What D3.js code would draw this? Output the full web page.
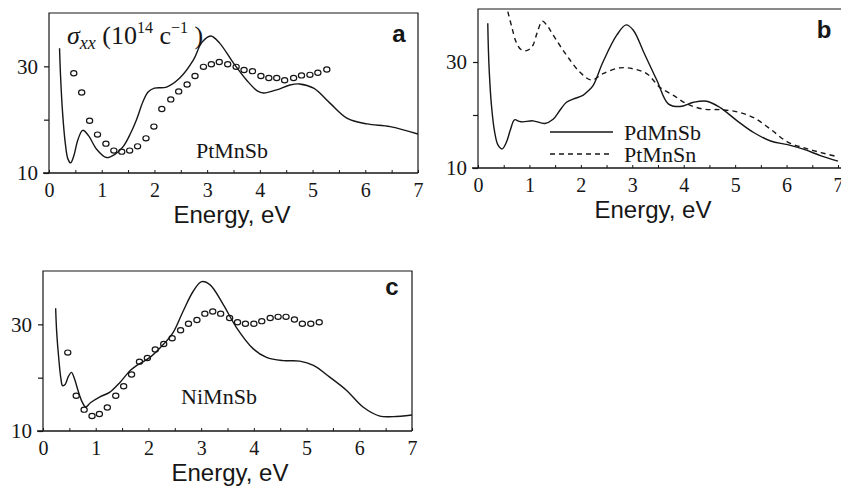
<!DOCTYPE html>
<html><head><meta charset="utf-8">
<script src="https://cdn.jsdelivr.net/npm/d3@7"></script>
<style>body{margin:0;background:#fff}svg{display:block}</style>
</head><body><svg id="chart" width="841" height="493"></svg>
<script>
// ---- data ----
const xTicks = [0, 1, 2, 3, 4, 5, 6, 7];
const xMinorTicks = [0.5, 1.5, 2.5, 3.5, 4.5, 5.5, 6.5];
const yTicks = [10, 20, 30];
const yTickLabels = ["10", "", "30"];

// panel a: PtMnSb theory (solid) and experiment (circles)
const aLineX = [0.2,0.22,0.26,0.31,0.36,0.41,0.47,0.55,0.64,0.75,0.9,1.09,1.25,1.41,1.55,1.66,1.78,1.88,2.0,2.23,2.48,2.74,2.9,3.07,3.24,3.5,3.75,3.95,4.07,4.32,4.57,4.75,5.02,5.33,5.65,6.03,6.47,7.0];
const aLineY = [33.4,28,21,15.5,12.6,11.9,13.2,16.3,18.0,17.0,14.5,12.9,13.5,15.0,17.5,20.0,23.3,25.2,25.9,26.1,27.8,31.2,34.5,35.7,34.3,30.6,27.4,25.4,25.0,25.6,26.5,26.7,25.9,23.1,20.3,19.2,18.7,17.3];
const aDotX = [0.47,0.62,0.77,0.92,1.08,1.23,1.38,1.53,1.68,1.84,1.99,2.14,2.31,2.46,2.62,2.77,2.93,3.08,3.23,3.39,3.55,3.70,3.86,4.02,4.17,4.32,4.47,4.64,4.79,4.95,5.10,5.27];
const aDotY = [28.7,25.1,19.8,17.2,15.5,14.2,14.0,14.2,15.0,16.5,18.7,22.0,23.8,25.3,26.6,28.2,29.9,30.4,30.8,30.4,29.9,29.3,29.1,28.2,27.8,27.8,27.4,27.8,28.3,28.4,28.8,29.4];

// panel b: PdMnSb (solid) and PtMnSn (dashed)
const bSolidX = [0.19,0.2,0.22,0.26,0.32,0.39,0.47,0.55,0.63,0.71,0.8,0.87,1.07,1.3,1.46,1.6,1.72,1.85,2.04,2.15,2.24,2.43,2.7,2.88,3.02,3.22,3.48,3.7,3.93,4.19,4.45,4.71,5.04,5.36,5.69,6.02,6.34,6.67,7.0];
const bSolidY = [37.3,33,28,22,17,14.3,13.6,14.8,17.2,19.1,18.8,18.7,18.9,18.4,19.2,21,22.4,23,23.7,24.6,25.6,30.0,35.1,37.0,36.0,31.9,26.5,22.1,21.6,22.4,22.6,21.4,18.9,16.7,15.1,14.4,13.5,12.3,11.3];
const bDashX = [0.58,0.66,0.74,0.83,0.92,1.0,1.07,1.15,1.25,1.35,1.46,1.72,1.98,2.21,2.43,2.76,3.02,3.28,3.54,3.8,4.06,4.39,4.71,5.04,5.36,5.69,6.02,6.34,6.67,7.0];
const bDashY = [39.5,36.5,33.8,32.4,32.1,32.4,33.2,35.5,37.7,36.8,35.1,31.3,28.1,26.6,27.8,28.9,28.7,27.8,25.2,23.7,22.1,21.1,21.0,20.6,19.5,17.3,14.9,13.8,12.9,12.1];
const bLegend = ["PdMnSb", "PtMnSn"];

// panel c: NiMnSb theory (solid) and experiment (circles)
const cLineX = [0.24,0.26,0.30,0.34,0.37,0.42,0.48,0.54,0.60,0.67,0.74,0.81,0.9,1.08,1.27,1.46,1.65,1.78,2.03,2.29,2.47,2.66,2.85,3.01,3.17,3.42,3.67,3.99,4.24,4.56,4.87,5.13,5.44,5.76,6.07,6.39,6.64,7.0];
const cLineY = [33.0,28.5,23.5,19.8,18.5,18.7,20.2,21.0,19.7,17.4,15.5,14.5,15.3,16.4,17.3,19.1,21.3,22.3,23.8,26.3,28.5,32.5,36.2,38.0,37.4,33.7,29.4,25.4,23.8,23.2,23.1,22.3,20.1,17.6,14.5,12.8,12.7,13.0];
const cDotX = [0.47,0.63,0.78,0.93,1.07,1.22,1.38,1.53,1.68,1.83,1.98,2.13,2.29,2.45,2.61,2.76,2.92,3.07,3.22,3.37,3.54,3.69,3.84,4.00,4.15,4.31,4.46,4.61,4.77,4.92,5.08,5.24];
const cDotY = [24.7,16.6,14.0,12.8,13.2,14.4,16.6,18.4,20.6,23.0,23.7,25.3,26.3,27.4,28.9,30.1,30.8,32.0,32.4,32.0,31.2,30.4,30.1,30.1,30.6,31.2,31.4,31.4,30.9,30.1,30.1,30.4];

// ---- drawing ----
const svg = d3.select("#chart");
const INK = "#161616";
const serif = "'Liberation Serif','Times New Roman',serif";
const sans = "'Liberation Sans',Arial,sans-serif";

function zip(xs, ys) { return xs.map((x, i) => [x, ys[i]]); }

function panel(p) {
  const x = d3.scaleLinear().domain([0, 7]).range([p.left, p.right]);
  const y = d3.scaleLinear().domain([10, 40]).range([p.bottom, p.top]);
  const g = svg.append("g");

  // frame
  const fr = p.frameRight !== undefined ? p.frameRight : p.right;
  g.append("path")
    .attr("d", `M${p.left},${p.bottom}V${p.top}H${fr}` + (p.closed ? `V${p.bottom}` : ""))
    .attr("fill", "none").attr("stroke", INK).attr("stroke-width", 1.2);

  // x axis
  const xAxis = d3.axisBottom(x).tickValues(xTicks).tickSize(-3).tickFormat(d3.format("d"));
  const xa = g.append("g").attr("transform", `translate(0,${p.bottom})`).call(xAxis);
  xa.select(".domain").attr("d", `M${p.left - 6},0H${fr}`).attr("stroke", INK).attr("stroke-width", 1.4);
  xa.selectAll(".tick line").attr("stroke", INK);
  xa.selectAll(".tick text").attr("font-family", serif).attr("font-size", 20).attr("fill", INK)
    .attr("y", 24).attr("dy", 0);
  const xm = d3.axisBottom(x).tickValues(xMinorTicks).tickSize(-3).tickFormat("");
  const xma = g.append("g").attr("transform", `translate(0,${p.bottom})`).call(xm);
  xma.select(".domain").remove();
  xma.selectAll(".tick line").attr("stroke", INK);

  // y axis
  const yAxis = d3.axisLeft(y).tickValues(yTicks).tickSize(5).tickPadding(6)
    .tickFormat((d, i) => yTickLabels[i]);
  const ya = g.append("g").attr("transform", `translate(${p.left},0)`).call(yAxis);
  ya.select(".domain").remove();
  ya.selectAll(".tick line").attr("stroke", INK).attr("stroke-width", 1.2);
  ya.selectAll(".tick text").attr("font-family", serif).attr("font-size", 21).attr("fill", INK);

  // axis title
  g.append("text").attr("x", p.titleX).attr("y", p.bottom + 50).attr("text-anchor", "middle")
    .attr("font-family", sans).attr("font-size", 24).attr("fill", INK).text("Energy, eV");

  // panel letter
  g.append("text").attr("x", p.letterX).attr("y", p.letterY).attr("text-anchor", "middle")
    .attr("font-family", sans).attr("font-weight", "bold")
    .attr("font-size", 24).attr("fill", INK).text(p.letter);

  const line = d3.line().x(d => x(d[0])).y(d => y(d[1])).curve(d3.curveCatmullRom.alpha(0.5));
  const clipId = "clip" + p.letter;
  g.append("clipPath").attr("id", clipId).append("rect")
    .attr("x", p.left).attr("y", p.top).attr("width", fr - p.left).attr("height", p.bottom - p.top);
  const plot = g.append("g").attr("clip-path", `url(#${clipId})`);
  (p.lines || []).forEach(L => {
    plot.append("path").datum(zip(L.xs, L.ys)).attr("d", line)
      .attr("fill", "none").attr("stroke", INK).attr("stroke-width", 1.4)
      .attr("stroke-dasharray", L.dash || null);
  });
  if (p.dots) {
    plot.selectAll("ellipse.dot").data(zip(p.dots.xs, p.dots.ys)).enter().append("ellipse")
      .attr("cx", d => x(d[0])).attr("cy", d => y(d[1])).attr("rx", 3.1).attr("ry", 2.6)
      .attr("fill", "none").attr("stroke", INK).attr("stroke-width", 1.2);
  }
  return { g, x, y };
}

// panel a
const A = panel({ left: 49, right: 418, top: 13, bottom: 173, closed: true, letter: "a", letterX: 399, letterY: 42,
  titleX: 232,
  lines: [{ xs: aLineX, ys: aLineY }], dots: { xs: aDotX, ys: aDotY } });
const sig = A.g.append("text").attr("x", 67).attr("y", 44).attr("font-family", serif).attr("font-size", 26).attr("fill", INK);
sig.append("tspan").attr("font-style", "italic").text("σ");
sig.append("tspan").attr("font-style", "italic").attr("font-size", 18).attr("dy", 5).text("xx");
sig.append("tspan").attr("dy", -5).text(" (10");
sig.append("tspan").attr("font-size", 16).attr("dy", -11).text("14");
sig.append("tspan").attr("dy", 11).text(" c");
sig.append("tspan").attr("font-size", 16).attr("dy", -11).text("−1");
sig.append("tspan").attr("dy", 11).text(" )");
A.g.append("text").attr("x", 232).attr("y", 158).attr("text-anchor", "middle").attr("font-family", serif)
  .attr("font-size", 22).attr("fill", INK).text("PtMnSb");

// panel b
const B = panel({ left: 478, right: 838, frameRight: 841, top: 9, bottom: 168, closed: false, letter: "b", letterX: 824, letterY: 38,
  titleX: 653,
  lines: [{ xs: bSolidX, ys: bSolidY }, { xs: bDashX, ys: bDashY, dash: "5,4" }] });
bLegend.forEach((name, i) => {
  const yy = 132 + i * 22;
  B.g.append("line").attr("x1", 550).attr("x2", 613).attr("y1", yy).attr("y2", yy)
    .attr("stroke", INK).attr("stroke-width", 1.4).attr("stroke-dasharray", i ? "5,4" : null);
  B.g.append("text").attr("x", 624).attr("y", yy + 8).attr("font-family", serif).attr("font-size", 22)
    .attr("fill", INK).text(name);
});

// panel c
const C = panel({ left: 43, right: 412, top: 271, bottom: 431, closed: true, letter: "c", letterX: 392, letterY: 295,
  titleX: 230,
  lines: [{ xs: cLineX, ys: cLineY }], dots: { xs: cDotX, ys: cDotY } });
C.g.append("text").attr("x", 219).attr("y", 404).attr("text-anchor", "middle").attr("font-family", serif)
  .attr("font-size", 22).attr("fill", INK).text("NiMnSb");
</script>
</body></html>
